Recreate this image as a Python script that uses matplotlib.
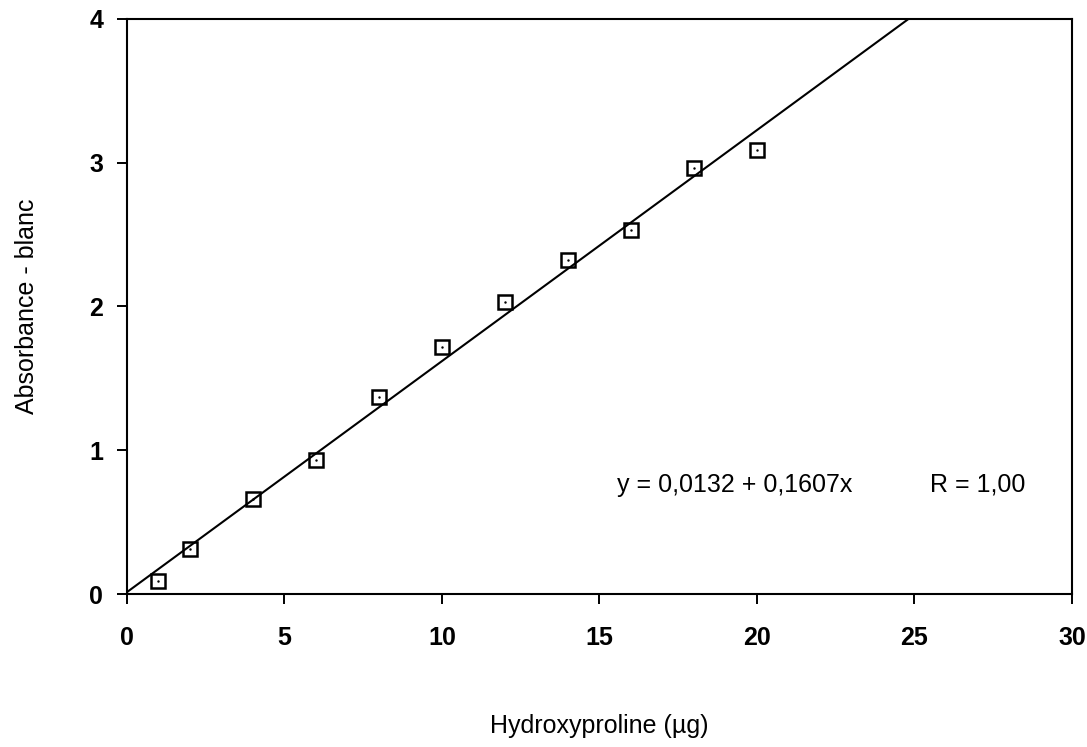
import numpy as np
import matplotlib.pyplot as plt

plt.rcParams['font.family'] = ['Liberation Sans', 'DejaVu Sans']

# hydroxyproline standard curve
hyp = [1, 2, 4, 6, 8, 10, 12, 14, 16, 18, 20]
absorb = [0.09, 0.31, 0.66, 0.93, 1.37, 1.72, 2.03, 2.32, 2.53, 2.96, 3.09]
intercept = 0.0132
slope = 0.1607

fig = plt.figure(figsize=(10.87, 7.47), dpi=100)
ax = fig.add_axes([0.1168, 0.2048, 0.8694, 0.7698])

xl = np.array([0, 30])
ax.plot(xl, intercept + slope * xl, color='black', lw=1.5)
ax.plot(hyp, absorb, ls='none', marker='s', ms=10, mfc='none', mec='black', mew=1.8)
ax.plot(hyp, absorb, ls='none', marker='.', ms=1.5, color='black')

ax.set_xlim(0, 30)
ax.set_ylim(0, 4)
ax.set_xticks([0, 5, 10, 15, 20, 25, 30])
ax.set_yticks([0, 1, 2, 3, 4])
ax.tick_params(direction='out', length=7, width=1.4, labelsize=18)
ax.tick_params(axis='x', pad=16)
ax.tick_params(axis='y', pad=10)
for lab in ax.get_xticklabels() + ax.get_yticklabels():
    lab.set_fontweight('bold')
for s in ax.spines.values():
    s.set_linewidth(1.5)

ax.text(15.55, 0.76, 'y = 0,0132 + 0,1607x', fontsize=18, va='center')
ax.text(25.5, 0.76, 'R = 1,00', fontsize=18, va='center')

ax.set_xlabel('Hydroxyproline (µg)', fontsize=18, labelpad=46)
ax.set_ylabel('Absorbance - blanc', fontsize=18, labelpad=36)

plt.savefig('out.png')
